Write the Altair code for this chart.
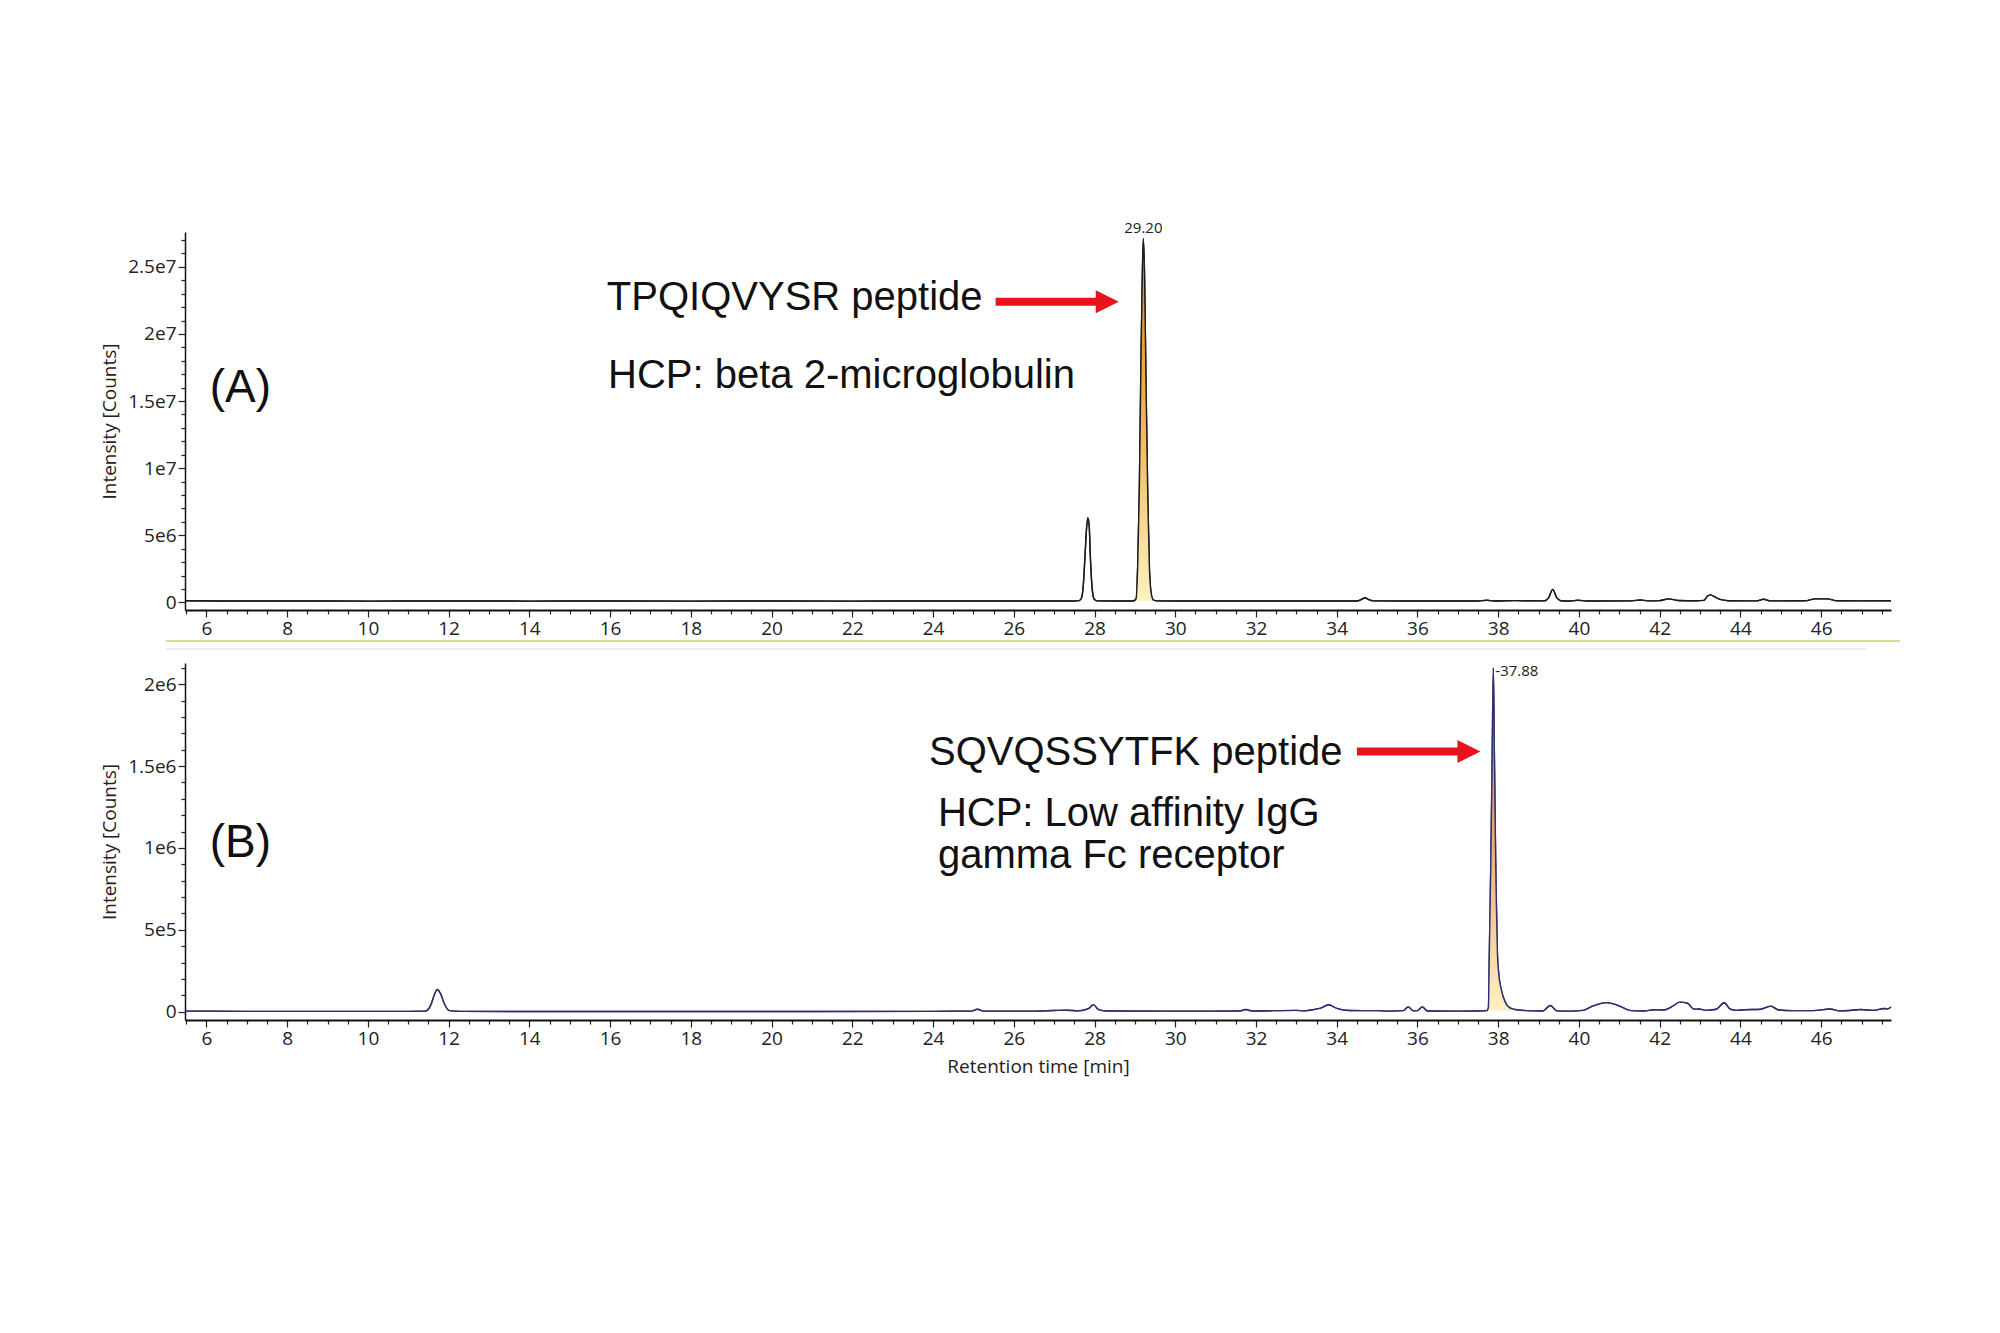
import altair as alt
import pandas as pd

# ---------------- data ----------------
# Panel A: TPQIQVYSR trace (retention time [min], intensity [counts])
a_time = [5.47, 6.5, 8.0, 10.0, 12.0, 14.0, 16.0, 18.0, 20.0, 22.0, 24.0, 25.5, 26.5, 27.5,
          27.62, 27.68, 27.72, 27.76, 27.80, 27.835, 27.87, 27.90, 27.94, 27.99, 28.06, 28.5,
          28.95, 29.03, 29.07, 29.11, 29.15, 29.185, 29.21, 29.24, 29.275, 29.32, 29.36, 29.41,
          29.46, 29.55, 30.5, 32.0, 33.5, 34.5, 34.62, 34.70, 34.78, 34.9, 36.0, 37.5, 37.72,
          37.9, 38.4, 39.15, 39.25, 39.35, 39.45, 39.55, 39.8, 39.97, 40.2, 41.3, 41.52, 41.7,
          42.0, 42.22, 42.45, 42.9, 43.1, 43.18, 43.25, 43.4, 43.55, 43.7, 44.4, 44.57, 44.75,
          45.6, 45.85, 46.15, 46.4, 47.0, 47.73]
a_int = [1.2e5, 1.05e5, 1.0e5, 0.95e5, 1.0e5, 0.95e5, 1.0e5, 0.95e5, 1.0e5, 0.95e5, 1.0e5, 1.0e5, 1.05e5, 1.0e5,
         1.3e5, 3.5e5, 1.2e6, 3.2e6, 5.4e6, 6.3e6, 5.6e6, 3.2e6, 1.1e6, 2.5e5, 1.1e5, 1.0e5,
         1.0e5, 2.5e5, 2.8e6, 8.4e6, 1.78e7, 2.45e7, 2.71e7, 2.43e7, 1.65e7, 7.7e6, 2.5e6, 5.5e5,
         1.6e5, 1.1e5, 1.0e5, 1.05e5, 1.0e5, 1.05e5, 2.3e5, 3.4e5, 2.2e5, 1.1e5, 1.05e5, 1.0e5, 1.6e5,
         1.05e5, 1.3e5, 1.1e5, 3.5e5, 9.7e5, 3.5e5, 1.2e5, 1.05e5, 1.6e5, 1.05e5, 1.1e5, 1.8e5, 1.1e5,
         1.3e5, 2.6e5, 1.4e5, 1.2e5, 1.5e5, 4.5e5, 5.6e5, 3.5e5, 1.8e5, 1.2e5, 1.1e5, 2.3e5, 1.1e5,
         1.2e5, 2.6e5, 2.6e5, 1.2e5, 1.1e5, 1.15e5]
a_fill_range = [29.03, 29.46]
a_fill_base = 1.0e5

# Panel B: SQVQSSYTFK trace
b_time = [5.47, 7.0, 9.0, 11.0, 11.42, 11.55, 11.65, 11.72, 11.8, 11.9, 12.02, 12.3, 15.0, 18.0,
          21.0, 24.0, 24.95, 25.1, 25.25, 26.5, 27.0, 27.3, 27.6, 27.85, 27.97, 28.1, 28.3, 30.0,
          31.6, 31.75, 31.9, 33.0, 33.2, 33.45, 33.6, 33.8, 34.0, 34.3, 35.0, 35.3, 35.65, 35.77,
          35.9, 36.0, 36.12, 36.25, 37.0, 37.5, 37.716, 37.757, 37.78, 37.814, 37.847, 37.88,
          37.905, 37.93, 37.946, 37.98, 38.01, 38.07, 38.17, 38.33, 38.45, 38.7, 39.1, 39.29,
          39.45, 39.8, 40.1, 40.35, 40.69, 40.95, 41.3, 41.6, 41.87, 42.1, 42.3, 42.5, 42.7,
          42.85, 42.97, 43.15, 43.4, 43.6, 43.75, 43.9, 44.1, 44.5, 44.75, 44.95, 45.3, 45.8,
          46.22, 46.45, 46.7, 46.97, 47.3, 47.57, 47.65, 47.73]
b_int = [3e3, 2e3, 2e3, 2e3, 3e3, 3.5e4, 1.05e5, 1.35e5, 1.1e5, 4.5e4, 6e3, 2e3, 1e3, 1e3,
         1e3, 2e3, 3e3, 1.5e4, 3e3, 3e3, 7e3, 9e3, 5e3, 1.8e4, 4.3e4, 1.2e4, 4e3, 3e3,
         4e3, 1.3e4, 4e3, 8e3, 5e3, 1.4e4, 2.2e4, 4.2e4, 2e4, 7e3, 6e3, 3e3, 6e3, 2.9e4,
         5e3, 6e3, 2.9e4, 4e3, 3e3, 4e3, 6e3, 2.2e4, 3.6e5, 8.7e5, 1.48e6, 2.1e6,
         1.58e6, 1.07e6, 7.7e5, 3.6e5, 2.4e5, 1.4e5, 6e4, 1.8e4, 1.2e4, 6e3, 4e3, 3.8e4,
         5e3, 3e3, 8e3, 3.5e4, 5.5e4, 4e4, 6e3, 4e3, 1.2e4, 1e4, 3e4, 5.8e4, 5e4,
         1.5e4, 1.6e4, 8e3, 1.5e4, 5.4e4, 1.5e4, 8e3, 1.2e4, 1.5e4, 3.4e4, 1.0e4, 6e3, 6e3,
         1.6e4, 5e3, 7e3, 1.3e4, 8e3, 1.9e4, 1.7e4, 2.8e4]
b_fill_range = [37.716, 38.45]
b_fill_base = 5e3

# axis ticks
x_tick_values = [v / 2 for v in range(11, 96)]          # every 0.5 min, labels on even minutes
ya_tick_values = [k * 1000000 for k in range(0, 28)]     # every 1e6, labels every 5e6
yb_tick_values = [k * 100000 for k in range(0, 22)]      # every 1e5, labels every 5e5

# annotations (data units)
a_peak_label = {"t": 29.21, "v": 2.71e7, "txt": "29.20"}
b_peak_label = {"t": 37.88, "v": 2.1e6, "txt": "-37.88"}
a_big_text = [{"t": 15.92, "v": 2.27e7, "txt": "TPQIQVYSR peptide"},
              {"t": 15.95, "v": 1.684e7, "txt": "HCP: beta 2-microglobulin"}]
a_panel_tag = {"t": 6.08, "v": 1.6e7, "txt": "(A)"}
b_big_text = [{"t": 23.9, "v": 1.58e6, "txt": "SQVQSSYTFK peptide"},
              {"t": 24.12, "v": 1.21e6, "txt": "HCP: Low affinity IgG"},
              {"t": 24.12, "v": 0.95e6, "txt": "gamma Fc receptor"}]
b_panel_tag = {"t": 6.08, "v": 1.03e6, "txt": "(B)"}
a_arrow = {"t": 25.55, "tip": 28.6, "v": 2.24e7}
b_arrow = {"t": 34.5, "tip": 37.56, "v": 1.59e6}

# ---------------- chart ----------------
W = 1706
HA = 378
HB = 357
RED = "#e8141b"
AXIS_FONT = "Open Sans"
TXT_FONT = "Liberation Sans"

xs = alt.Scale(domain=[5.47, 47.73], nice=False, zero=False)
ysA = alt.Scale(domain=[-570000, 27600000], nice=False, zero=False)
ysB = alt.Scale(domain=[-51000, 2130000], nice=False, zero=False)


def x_axis(title):
    return alt.Axis(
        values=x_tick_values,
        labelExpr="datum.value % 2 == 0 ? format(datum.value, 'd') : ''",
        tickSize={"condition": {"test": "datum.value % 2 == 0", "value": 7}, "value": 4},
        labelOverlap=False, labelFlush=False, grid=False,
        title=title, titleFont=AXIS_FONT, titleFontSize=19, titleFontWeight="normal",
        titleColor="#222", titlePadding=9,
        labelFont=AXIS_FONT, labelFontSize=19, labelColor="#222", labelPadding=2,
        domainColor="#111", domainWidth=2.2, tickColor="#222", tickWidth=1.2,
    )


def y_axis(values, major):
    return alt.Axis(
        values=values,
        labelExpr=(f"datum.value % {major} == 0 ? (datum.value == 0 ? '0' : "
                   "replace(format(datum.value, '~e'), '+', '')) : ''"),
        tickSize={"condition": {"test": f"datum.value % {major} == 0", "value": 7}, "value": 4},
        labelOverlap=False, labelFlush=False, grid=False,
        title="Intensity [Counts]", titleFont=AXIS_FONT, titleFontSize=19,
        titleFontWeight="normal", titleColor="#222", titlePadding=8,
        labelFont=AXIS_FONT, labelFontSize=19, labelColor="#222", labelPadding=2,
        domainColor="#111", domainWidth=1.5, tickColor="#222", tickWidth=1.2,
    )


def grad(top, mid, bottom):
    return alt.Gradient(gradient="linear", x1=0, x2=0, y1=1, y2=0,
                        stops=[alt.GradientStop(color=bottom, offset=0),
                               alt.GradientStop(color=mid, offset=0.5),
                               alt.GradientStop(color=top, offset=1)])


def panel(time, inten, fill_range, fill_base, ys, yvals, ymajor, line_color, gradient,
          peak_label, label_align, label_dx, label_dy, label_baseline,
          big_text, tag, arrow, height, xtitle, separator):
    df = pd.DataFrame({"t": time, "v": inten})
    dfill = df[(df.t >= fill_range[0]) & (df.t <= fill_range[1])]

    X = alt.X("t:Q", scale=xs, axis=x_axis(xtitle))
    Y = alt.Y("v:Q", scale=ys, axis=y_axis(yvals, ymajor))

    line = alt.Chart(df).mark_line(color=line_color, strokeWidth=1.4, interpolate="monotone").encode(
        x=X, y=Y)
    fill = alt.Chart(dfill).mark_area(color=gradient, interpolate="monotone").encode(
        x=X, y=Y, y2=alt.datum(fill_base))
    plab = alt.Chart(pd.DataFrame([peak_label])).mark_text(
        font=AXIS_FONT, fontSize=15, color="#222", align=label_align, baseline=label_baseline,
        dx=label_dx, dy=label_dy).encode(x=X, y=Y, text="txt:N")
    texts = alt.Chart(pd.DataFrame(big_text)).mark_text(
        font=TXT_FONT, fontSize=40, color="#111", align="left", baseline="middle").encode(
        x=X, y=Y, text="txt:N")
    tagm = alt.Chart(pd.DataFrame([tag])).mark_text(
        font=TXT_FONT, fontSize=46, color="#111", align="left", baseline="middle").encode(
        x=X, y=Y, text="txt:N")
    adf = pd.DataFrame([{"t": arrow["t"], "t2": arrow["tip"] - 0.3, "v": arrow["v"]}])
    hdf = pd.DataFrame([{"t": arrow["tip"], "v": arrow["v"]}])
    shaft = alt.Chart(adf).mark_rule(color=RED, strokeWidth=8, strokeCap="butt").encode(
        x=X, x2="t2:Q", y=Y)
    head = alt.Chart(hdf).mark_point(shape="M -2 -1 L 0 0 L -2 1 Z", size=529, filled=True,
                                     color=RED, opacity=1, strokeWidth=0).encode(x=X, y=Y)
    layers = [line, fill, line, plab, texts, tagm, shaft, head]
    if separator:
        sep1 = alt.Chart(pd.DataFrame({"a": [0]})).mark_rule(color="#d9d7a2", strokeWidth=2).encode(
            x=alt.value(-19), x2=alt.value(W + 9), y=alt.value(height + 31))
        sep2 = alt.Chart(pd.DataFrame({"a": [0]})).mark_rule(color="#e4e4ee", strokeWidth=1.5).encode(
            x=alt.value(-19), x2=alt.value(W - 24), y=alt.value(height + 39))
        layers += [sep1, sep2]
    return alt.layer(*layers).properties(width=W, height=height)


panel_a = panel(a_time, a_int, a_fill_range, a_fill_base, ysA, ya_tick_values, 5000000,
                "#1c1c1c", grad("#df8a22", "#f0b552", "#fdf1c2"),
                a_peak_label, "center", 0, -3, "bottom",
                a_big_text, a_panel_tag, a_arrow, HA, None, True)
panel_b = panel(b_time, b_int, b_fill_range, b_fill_base, ysB, yb_tick_values, 500000,
                "#2f2f70", grad("#c47a5c", "#eeaa72", "#fcf1c4"),
                b_peak_label, "left", 2, 3, "middle",
                b_big_text, b_panel_tag, b_arrow, HB, "Retention time [min]", False)

chart = alt.vconcat(panel_a, panel_b, spacing=8).properties(
    padding={"left": 92, "top": 212, "right": 10, "bottom": 10},
    background="white",
).configure_view(stroke=None)

chart.save("out.html", embed_options={"renderer": "svg", "actions": False})
